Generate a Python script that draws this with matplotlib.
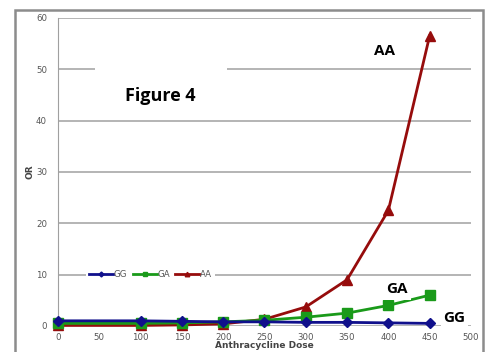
import matplotlib
matplotlib.use("Agg")
import matplotlib.pyplot as plt
from matplotlib.patches import Rectangle

# Data
dose = [0, 100, 150, 200, 250, 300, 350, 400, 450]
gg = [1.0, 1.0, 0.9, 0.8, 0.8, 0.7, 0.7, 0.6, 0.5]
ga = [0.5, 0.5, 0.6, 0.8, 1.1, 1.7, 2.5, 4.0, 6.0]
aa = [0.1, 0.1, 0.2, 0.4, 1.3, 3.7, 9.0, 22.5, 56.5]

x_ticks = [0, 50, 100, 150, 200, 250, 300, 350, 400, 450, 500]
y_ticks = [0, 10, 20, 30, 40, 50, 60]

fig = plt.figure(figsize=(4.88, 3.52), dpi=100)
ax = fig.add_axes([0.119, 0.074, 0.846, 0.875])

# outer frame of the picture
fig.patches.append(Rectangle((15 / 488, -0.05), 468 / 488, 1 - 10 / 352 + 0.05,
                             transform=fig.transFigure, fill=False,
                             edgecolor='#8c8c8c', linewidth=1.8))

ax.plot(dose, gg, color='#10108c', marker='D', markersize=5, linewidth=2,
        label='GG', clip_on=False, zorder=5)
ax.plot(dose, ga, color='#1a9a1a', marker='s', markersize=7, linewidth=2,
        label='GA', clip_on=False, zorder=4)
ax.plot(dose, aa, color='#960c0c', marker='^', markersize=6.5, linewidth=2,
        label='AA', clip_on=False, zorder=3)

ax.set_xlim(0, 500)
ax.set_ylim(0, 60)
ax.set_xticks(x_ticks)
ax.set_yticks(y_ticks)
ax.yaxis.grid(True, color='#b4b4b4', linewidth=1.4)
ax.set_axisbelow(True)
for s in ['top', 'right', 'bottom']:
    ax.spines[s].set_visible(False)
ax.spines['left'].set_color('#a0a0a0')
ax.tick_params(axis='both', length=0, labelsize=6.2, labelcolor='#555555', pad=8)
ax.tick_params(axis='x', pad=5)

ax.set_xlabel('Anthracycline Dose', fontsize=6.5, fontweight='bold',
              color='#444444', labelpad=-1)
ax.set_ylabel('OR', fontsize=6.5, fontweight='bold', color='#444444', labelpad=1)

leg = ax.legend(loc='center', bbox_to_anchor=(112 / 500, 10 / 60), ncol=3,
                fontsize=6.2, frameon=True, facecolor='white', edgecolor='none',
                framealpha=1, handlelength=2.8, columnspacing=0.6,
                handletextpad=0.1, borderpad=0.3, markerscale=0.5)
for t in leg.get_texts():
    t.set_color('#555555')

# white box behind the "Figure 4" caption
ax.add_patch(Rectangle((45, 40.1), 159, 10.2, facecolor='white',
                       edgecolor='none', zorder=2))
ax.text(124, 44.8, 'Figure 4', fontsize=13, fontweight='bold', family='Open Sans',
        ha='center', va='center', zorder=6)
ax.text(395, 53.5, 'AA', fontsize=11, fontweight='bold', family='Open Sans',
        ha='center', va='center', zorder=6)
ax.text(410, 7.2, 'GA', fontsize=11, fontweight='bold', family='Open Sans',
        ha='center', va='center', zorder=6,
        bbox=dict(facecolor='white', edgecolor='none', pad=3))
ax.text(480, 1.6, 'GG', fontsize=11, fontweight='bold', family='Open Sans',
        ha='center', va='center', zorder=6, clip_on=False,
        bbox=dict(facecolor='white', edgecolor='none', pad=2))

fig.savefig('out.png', dpi=100)
